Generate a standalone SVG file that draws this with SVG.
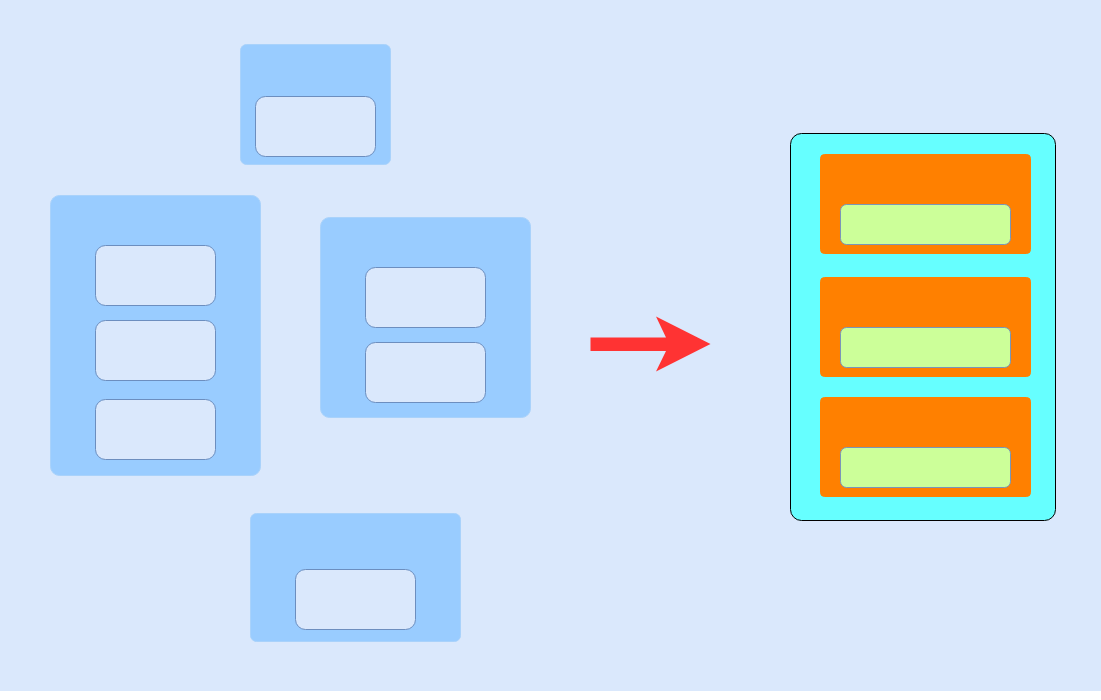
<svg xmlns="http://www.w3.org/2000/svg" width="1101" height="700" viewBox="0 0 1101 700">
  <style>
    .bg { fill: #dae8fc; stroke: #dae8fc; }
    .group { fill: #99ccff; stroke: #a9d2fb; stroke-width: 1; }
    .item { fill: #dae8fc; stroke: #6c8ebf; stroke-width: 1; }
    .panel { fill: #66ffff; stroke: #000000; stroke-width: 1; }
    .block { fill: #ff8000; stroke: #ff8000; }
    .slot { fill: #ccff99; stroke: #7a96b8; stroke-width: 1; }
    .arrow { fill: #ff3333; stroke: none; }
  </style>
  <rect class="bg" x="0.5" y="0.5" width="1100" height="690"/>

  <g id="group-top">
    <rect class="group" x="240.5" y="44.5" width="150" height="120" rx="6"/>
    <rect class="item" x="255.5" y="96.5" width="120" height="60" rx="10"/>
  </g>

  <g id="group-left">
    <rect class="group" x="50.5" y="195.5" width="210" height="280" rx="9"/>
    <rect class="item" x="95.5" y="245.5" width="120" height="60" rx="10"/>
    <rect class="item" x="95.5" y="320.5" width="120" height="60" rx="10"/>
    <rect class="item" x="95.5" y="399.5" width="120" height="60" rx="10"/>
  </g>

  <g id="group-middle">
    <rect class="group" x="320.5" y="217.5" width="210" height="200" rx="9"/>
    <rect class="item" x="365.5" y="267.5" width="120" height="60" rx="10"/>
    <rect class="item" x="365.5" y="342.5" width="120" height="60" rx="10"/>
  </g>

  <g id="group-bottom">
    <rect class="group" x="250.5" y="513.5" width="210" height="128" rx="6"/>
    <rect class="item" x="295.5" y="569.5" width="120" height="60" rx="10"/>
  </g>

  <g id="connectors">
    <polygon class="arrow" points="590.5,337.5 666,337.5 656,316.5 710.5,344 656,371.5 666,351 590.5,351"/>
  </g>

  <g id="panel">
    <rect class="panel" x="790.5" y="133.5" width="265" height="387" rx="11"/>
    <g id="block-1">
      <rect class="block" x="820.5" y="154.5" width="210" height="99" rx="4"/>
      <rect class="slot" x="840.5" y="204.5" width="170" height="40" rx="6"/>
    </g>
    <g id="block-2">
      <rect class="block" x="820.5" y="277.5" width="210" height="99" rx="4"/>
      <rect class="slot" x="840.5" y="327.5" width="170" height="40" rx="6"/>
    </g>
    <g id="block-3">
      <rect class="block" x="820.5" y="397.5" width="210" height="99" rx="4"/>
      <rect class="slot" x="840.5" y="447.5" width="170" height="40" rx="6"/>
    </g>
  </g>
</svg>
